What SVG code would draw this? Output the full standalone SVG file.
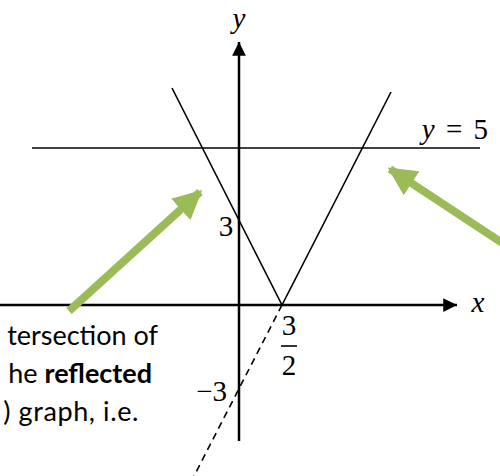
<svg xmlns="http://www.w3.org/2000/svg" width="500" height="476" viewBox="0 0 500 476">
<style>
.ax{stroke:#000;stroke-width:2.5;fill:none}
.ln{stroke:#000;stroke-width:1.6;fill:none}
.dash{stroke:#000;stroke-width:1.6;fill:none;stroke-dasharray:7,5}
.grn{stroke:#9BBB59;stroke-width:8;fill:none}
.m{font-family:"Liberation Serif",serif;font-size:29px;fill:#000}
.mi{font-family:"Liberation Serif",serif;font-style:italic;font-size:29px;fill:#000}
.t{font-family:Lato,"Open Sans",sans-serif;font-size:27px;fill:#000}
</style>
<defs>
<marker id="ah" viewBox="0 0 10 10" refX="10" refY="5" markerWidth="5.5" markerHeight="6.5" orient="auto" markerUnits="strokeWidth"><path d="M0,0 L10,5 L0,10 z" fill="#000"/></marker>
<marker id="gh" viewBox="0 0 10 10" refX="9" refY="5" markerWidth="3.6" markerHeight="3.6" orient="auto" markerUnits="strokeWidth"><path d="M0,0 L10,5 L0,10 z" fill="#9BBB59"/></marker>
</defs>
<g id="connectors">
<line id="x-axis" class="ax" x1="0" y1="305" x2="457" y2="305" marker-end="url(#ah)"/>
<line id="y-axis" class="ax" x1="239" y1="441" x2="239" y2="42" marker-end="url(#ah)"/>
<line id="y5" class="ln" x1="32" y1="148" x2="480" y2="148"/>
<polyline id="vgraph" class="ln" points="172,88 282,305 391,92"/>
<line id="reflected" class="dash" x1="282" y1="305" x2="193" y2="478"/>
<line id="arrow-left" class="grn" x1="69" y1="311" x2="200" y2="192" marker-end="url(#gh)"/>
<line id="arrow-right" class="grn" x1="510" y1="248" x2="390" y2="169" marker-end="url(#gh)"/>
</g>
<g id="labels">
<text class="mi" x="239" y="28" text-anchor="middle">y</text>
<text class="mi" x="478" y="312" text-anchor="middle">x</text>
<text x="488" y="139" text-anchor="end" class="m" word-spacing="4"><tspan class="mi">y</tspan> = 5</text>
<text class="m" x="226" y="236" text-anchor="middle">3</text>
<text class="m" x="289" y="335" text-anchor="middle">3</text>
<line class="ln" x1="281" y1="346" x2="297" y2="346"/>
<text class="m" x="289" y="375" text-anchor="middle">2</text>
<text class="m" x="227" y="401" text-anchor="end">−3</text>
</g>
<g id="note">
<text class="t" x="158" y="345" text-anchor="end">tersection of</text>
<text class="t" x="152" y="383" text-anchor="end">he <tspan font-weight="bold">reflected</tspan></text>
<text class="t" x="139" y="421" text-anchor="end" letter-spacing="0.6">) graph, i.e.</text>
</g>
</svg>
